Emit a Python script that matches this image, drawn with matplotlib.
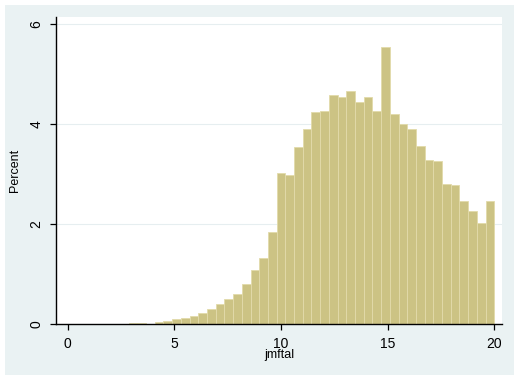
import numpy as np
import matplotlib
matplotlib.use("Agg")
import matplotlib.pyplot as plt
from matplotlib.patches import Rectangle

# histogram of jmftal, 49 bins from 0 to 20 (percent per bin)
bin_start = 0.0
bin_stop = 20.0
percent = [0, 0, 0, 0, 0, 0, 0, 0.015, 0.03, 0.01,
           0.05, 0.07, 0.11, 0.13, 0.16, 0.23, 0.31, 0.40, 0.50, 0.61,
           0.81, 1.08, 1.33, 1.85, 3.03, 2.98, 3.53, 3.89, 4.23, 4.25,
           4.58, 4.53, 4.66, 4.43, 4.54, 4.27, 5.53, 4.19, 3.99, 3.89,
           3.55, 3.27, 3.25, 2.79, 2.77, 2.45, 2.26, 2.03, 2.45]
x_ticks = [0, 5, 10, 15, 20]
y_ticks = [0, 2, 4, 6]

edges = np.linspace(bin_start, bin_stop, len(percent) + 1)
width = edges[1] - edges[0]

plt.rcParams['font.family'] = ['Liberation Sans', 'DejaVu Sans']

fig = plt.figure(figsize=(5.2, 3.8), dpi=100)
fig.patch.set_facecolor('white')

# stata-style light bluish outer region
fig.add_artist(Rectangle((5 / 520, 5 / 380), 509 / 520, 370 / 380,
                         transform=fig.transFigure, facecolor='#EAF2F3',
                         edgecolor='none', zorder=0))

ax = fig.add_axes([56 / 520, 1 - 324 / 380, 446 / 520, 307 / 380])
ax.set_facecolor('white')

ax.bar(edges[:-1], percent, width=width, align='edge',
       color='#CCC384', edgecolor='#E2DBAA', linewidth=0.6, zorder=2)

# faint horizontal grid
for y in y_ticks[1:]:
    ax.axhline(y, color='#E6EEF0', linewidth=0.8, zorder=1)

ax.set_xlim(-0.55, 20.36)
ax.set_ylim(0, 6.14)
ax.set_xticks(x_ticks)
ax.set_yticks(y_ticks)
ax.set_yticklabels([str(v) for v in y_ticks], rotation=90, va='center')

ax.spines['top'].set_visible(False)
ax.spines['right'].set_visible(False)
ax.spines['left'].set_linewidth(1.0)
ax.spines['bottom'].set_linewidth(1.0)
ax.tick_params(axis='both', direction='out', length=4, width=0.9,
               labelsize=10, colors='black', pad=5)

ax.set_xlabel('jmftal', fontsize=9, labelpad=-1)
ax.set_ylabel('Percent', fontsize=9, labelpad=6)

plt.savefig('out.png', dpi=100, facecolor=fig.get_facecolor())
